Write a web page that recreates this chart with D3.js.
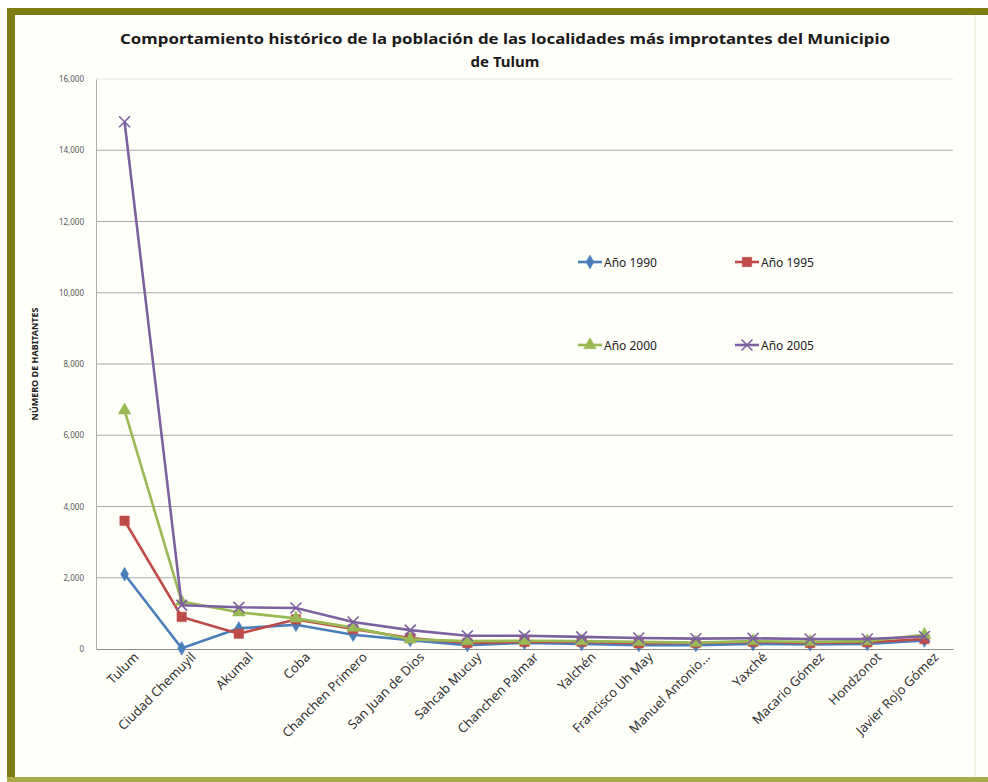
<!DOCTYPE html>
<html>
<head>
<meta charset="utf-8">
<script src="https://cdn.jsdelivr.net/npm/d3@7"></script>
<style>
  body { margin: 0; background: #fff; }
  text { font-family: "Noto Sans", "Open Sans", sans-serif; }
</style>
</head>
<body>
<div id="chart"></div>
<script>
"use strict";

const localidades = ["Tulum", "Ciudad Chemuyil", "Akumal", "Coba", "Chanchen Primero",
  "San Juan de Dios", "Sahcab Mucuy", "Chanchen Palmar", "Yalchén", "Francisco Uh May",
  "Manuel Antonio...", "Yaxché", "Macario Gómez", "Hondzonot", "Javier Rojo Gómez"];

const anio1990 = [2100, 20, 580, 680, 400, 250, 110, 170, 140, 110, 110, 140, 130, 140, 240];
const anio1995 = [3600, 900, 430, 830, 560, 310, 170, 200, 200, 160, 170, 200, 170, 190, 280];
const anio2000 = [6700, 1330, 1030, 860, 600, 270, 220, 230, 220, 200, 180, 220, 200, 220, 400];
const anio2005 = [14800, 1230, 1170, 1150, 760, 530, 370, 370, 340, 310, 290, 300, 280, 280, 350];

const yTicks = [0, 2000, 4000, 6000, 8000, 10000, 12000, 14000, 16000];

const series = [
  { name: "Año 1990", values: anio1990, color: "#4a7ebb", symbol: "diamond" },
  { name: "Año 1995", values: anio1995, color: "#be4b48", symbol: "square" },
  { name: "Año 2000", values: anio2000, color: "#98b954", symbol: "triangle" },
  { name: "Año 2005", values: anio2005, color: "#7d60a0", symbol: "cross" }
];

const W = 988, H = 782;
const margin = { top: 79, right: 35, bottom: 133, left: 96 };
const width = W - margin.left - margin.right,
  height = H - margin.top - margin.bottom;

const svg = d3.select("#chart").append("svg")
  .attr("width", W).attr("height", H);

// fondo y marco
svg.append("rect").attr("width", W).attr("height", H).attr("fill", "#fff");
svg.append("rect").attr("x", 7).attr("y", 8).attr("width", W - 7).attr("height", H - 8)
  .attr("fill", "#fffffa");
svg.append("rect").attr("x", 7).attr("y", 8).attr("width", W - 7).attr("height", 7).attr("fill", "#7d7d12");
svg.append("rect").attr("x", 7).attr("y", 8).attr("width", 8).attr("height", H - 8).attr("fill", "#7d7d12");
svg.append("rect").attr("x", 7).attr("y", H - 5).attr("width", W - 7).attr("height", 5).attr("fill", "#a9a94a");
svg.append("line").attr("x1", 975).attr("x2", 975).attr("y1", 15).attr("y2", H - 5)
  .attr("stroke", "#eeeed8").attr("stroke-width", 1.5);

// titulo
svg.append("text").attr("x", 505).attr("y", 44).attr("text-anchor", "middle")
  .attr("font-size", 15).attr("font-weight", "bold").attr("fill", "#1a1a1a")
  .attr("textLength", 770).attr("lengthAdjust", "spacingAndGlyphs")
  .text("Comportamiento histórico de la población de las localidades más improtantes del Municipio");
svg.append("text").attr("x", 505).attr("y", 67).attr("text-anchor", "middle")
  .attr("font-size", 15).attr("font-weight", "bold").attr("fill", "#1a1a1a")
  .text("de Tulum");

const g = svg.append("g").attr("transform", "translate(" + margin.left + "," + margin.top + ")");

const x = d3.scalePoint().domain(localidades).range([0, width]).padding(0.5);
const y = d3.scaleLinear().domain([0, 16000]).range([height, 0]);

// grid
g.append("g").selectAll("line").data(yTicks.slice(1)).join("line")
  .attr("x1", 0).attr("x2", width)
  .attr("y1", d => y(d)).attr("y2", d => y(d))
  .attr("stroke", d => d === 16000 ? "#e2e2e2" : "#a8a8a8").attr("stroke-width", 1.2);

const yAxis = g.append("g")
  .call(d3.axisLeft(y).tickValues(yTicks).tickSize(0).tickPadding(12)
    .tickFormat(d3.format(",")));
yAxis.select(".domain").attr("stroke", "#b0b0b0");
yAxis.selectAll("text").attr("font-size", 8).attr("fill", "#555")
  .attr("font-family", "'Liberation Serif', serif");

const xAxis = g.append("g").attr("transform", "translate(0," + height + ")")
  .call(d3.axisBottom(x).tickSize(0).tickPadding(10));
xAxis.select(".domain").attr("stroke", "#8c8c8c").attr("stroke-width", 1.2);
xAxis.selectAll("text")
  .attr("font-size", 13).attr("fill", "#333")
  .attr("text-anchor", "end")
  .attr("dx", "0.3em").attr("dy", "0.5em")
  .attr("transform", "rotate(-45)");

// titulo eje y
svg.append("text")
  .attr("transform", "translate(38," + (margin.top + height / 2) + ") rotate(-90)")
  .attr("text-anchor", "middle").attr("font-size", 9).attr("font-weight", "bold")
  .attr("fill", "#222").text("NÚMERO DE HABITANTES");

const line = d3.line().x((d, i) => x(localidades[i])).y(d => y(d));

const symbols = {
  diamond: d3.symbol().type(d3.symbolDiamond).size(55),
  square: d3.symbol().type(d3.symbolSquare).size(90),
  triangle: d3.symbol().type(d3.symbolTriangle).size(70),
  cross: d3.symbol().type(d3.symbolX).size(80)
};

series.forEach(s => {
  g.append("path").datum(s.values)
    .attr("fill", "none").attr("stroke", s.color).attr("stroke-width", 2.6)
    .attr("stroke-linejoin", "round").attr("d", line);
  g.append("g").selectAll("path").data(s.values).join("path")
    .attr("transform", (d, i) => "translate(" + x(localidades[i]) + "," + y(d) + ")")
    .attr("d", symbols[s.symbol]())
    .attr("fill", s.symbol === "cross" ? "none" : s.color)
    .attr("stroke", s.color)
    .attr("stroke-width", s.symbol === "cross" ? 1.6 : 0.5);
});

// leyenda
const legendPos = [[578, 262], [735, 262], [578, 345], [735, 345]];
series.forEach((s, i) => {
  const lg = svg.append("g").attr("transform", "translate(" + legendPos[i][0] + "," + legendPos[i][1] + ")");
  lg.append("line").attr("x1", 0).attr("x2", 24).attr("stroke", s.color).attr("stroke-width", 2.6);
  lg.append("path").attr("transform", "translate(12,0)").attr("d", symbols[s.symbol]())
    .attr("fill", s.symbol === "cross" ? "none" : s.color)
    .attr("stroke", s.color).attr("stroke-width", s.symbol === "cross" ? 1.6 : 0.5);
  lg.append("text").attr("x", 26).attr("y", 5).attr("font-size", 12).attr("fill", "#222")
    .text(s.name);
});
</script>
</body>
</html>
